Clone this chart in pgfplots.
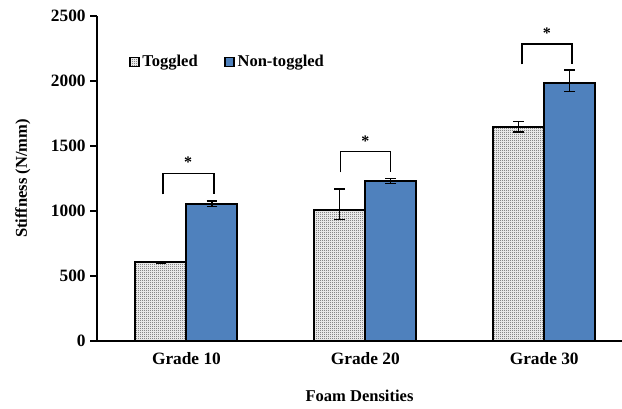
\documentclass[border=0pt]{standalone}
\usepackage{fontspec}
\setmainfont{Liberation Serif}
\usepackage{pgfplots}
\pgfplotsset{compat=1.18}
\usetikzlibrary{patterns}
\pgfdeclarepatternformonly{finecheck}{\pgfqpoint{0pt}{0pt}}{\pgfqpoint{1.5pt}{1.5pt}}{\pgfqpoint{1.5pt}{1.5pt}}{%
  \pgfpathrectangle{\pgfqpoint{0pt}{0pt}}{\pgfqpoint{0.75pt}{0.75pt}}%
  \pgfpathrectangle{\pgfqpoint{0.75pt}{0.75pt}}{\pgfqpoint{0.75pt}{0.75pt}}%
  \pgfusepath{fill}}
\definecolor{ntblue}{HTML}{4F81BD}
\begin{document}
\begin{tikzpicture}[x=1pt,y=1pt]
\begin{axis}[
  scale only axis,
  width=393.75pt, height=243.75pt,
  ybar,
  xmin=-0.5, xmax=2.435,
  ymin=0, ymax=2500,
  ytick={0,500,...,2500},
  xtick={0,1,2},
  xticklabels={Grade 10,Grade 20,Grade 30},
  major x tick style={draw=none},
  axis x line=bottom, axis y line=left,
  axis line style={line width=1.4pt, -},
  y tick style={line width=1.1pt, black},
  tick align=outside,
  major tick length=5pt,
  ticklabel style={font=\fontsize{13}{15}\selectfont\bfseries},
  /pgf/number format/assume math mode=true,
  /pgf/number format/1000 sep={},
  xlabel={Foam Densities},
  ylabel={Stiffness (N/mm)},
  label style={font=\fontsize{12.4}{14}\selectfont\bfseries},
  xlabel style={yshift=-12.5pt},
  ylabel style={yshift=8.5pt},
  bar width=0.285,
  legend style={at={(0.053,0.858)}, anchor=west, draw=none, fill=none,
    legend columns=2, font=\fontsize{12.4}{14}\selectfont\bfseries,
    /tikz/every even column/.append style={column sep=18pt}},
  legend image code/.code={\draw[#1, line width=1.1pt] (0pt,-3.4pt) rectangle (6.8pt,3.4pt);},
  error bars/y dir=both, error bars/y explicit,
  error bars/error bar style={line width=1pt, black},
  error bars/error mark options={rotate=90, mark size=4pt, line width=1pt, black},
]
\addplot[bar shift=-0.1425, draw=black, line width=1.5pt, pattern=finecheck, pattern color=black!72]
  coordinates {(0,605) +- (0,8) (1,1008) += (0,161) -= (0,72) (2,1647) +- (0,40)};
\addlegendentry{Toggled}
\addplot[bar shift=0.1425, draw=black, line width=1.5pt, fill=ntblue]
  coordinates {(0,1057) +- (0,20) (1,1230) +- (0,18) (2,1982) += (0,103) -= (0,64)};
\addlegendentry{Non-toggled}
% significance brackets
\addplot[sharp plot, black, line width=1.1pt, forget plot, error bars/y dir=none] coordinates {(-0.132,1128) (-0.132,1289) (0.153,1289) (0.153,1128)};
\addplot[sharp plot, black, line width=1.1pt, forget plot, error bars/y dir=none] coordinates {(0.86,1298) (0.86,1456) (1.14,1456) (1.14,1298)};
\addplot[sharp plot, black, line width=1.1pt, forget plot, error bars/y dir=none] coordinates {(1.875,2128) (1.875,2285) (2.155,2285) (2.155,2128)};
\node[font=\fontsize{12}{14}\selectfont\bfseries] at (axis cs:0.01,1375) {*};
\node[font=\fontsize{12}{14}\selectfont\bfseries] at (axis cs:1.0,1540) {*};
\node[font=\fontsize{12}{14}\selectfont\bfseries] at (axis cs:2.015,2370) {*};
\coordinate (O) at (axis cs:-0.5,0);
\end{axis}
\pgfresetboundingbox
\path ([shift={(-72.75pt,-50.25pt)}]O) rectangle ([shift={(393.75pt,255.75pt)}]O);
\end{tikzpicture}
\end{document}
